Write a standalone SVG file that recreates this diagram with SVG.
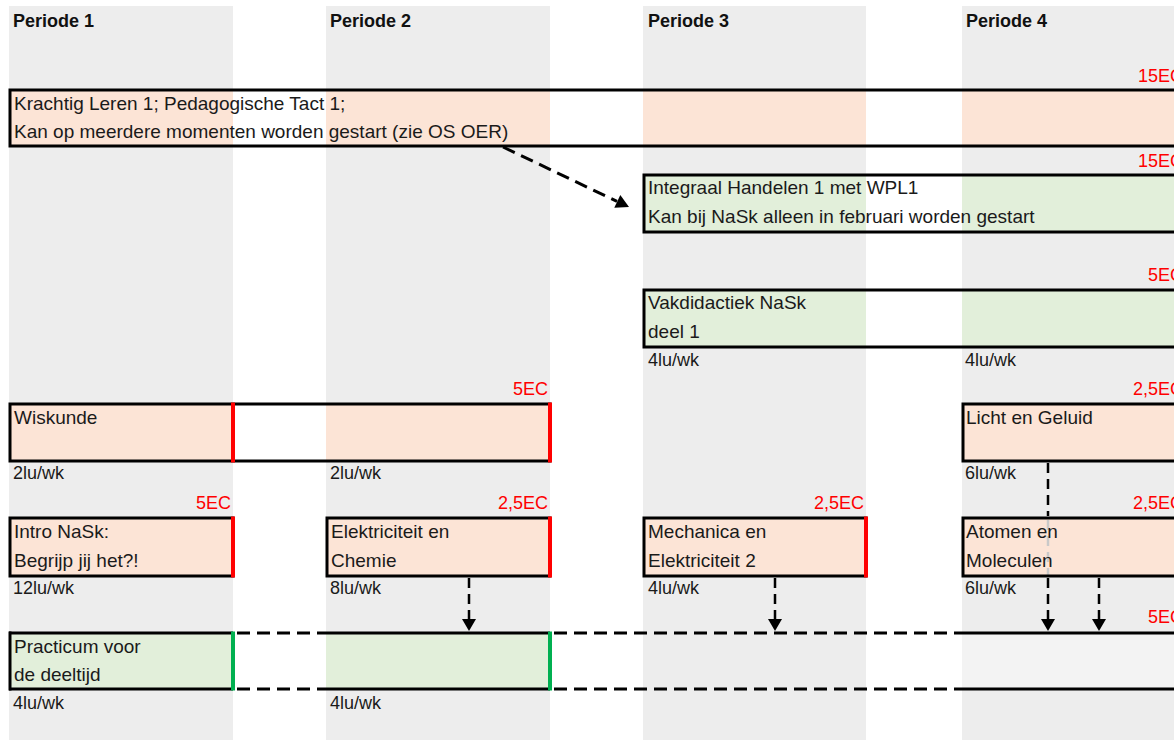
<svg xmlns="http://www.w3.org/2000/svg" width="1174" height="740" viewBox="0 0 1174 740">
<style>
.col{fill:#EDEDED}
.peach{fill:#FCE4D6}
.green{fill:#E2EFDA}
.box{fill:none;stroke:#000;stroke-width:3}
.ln{stroke:#000;stroke-width:3;fill:none}
.t{font-family:"Liberation Sans",Arial,sans-serif;font-size:19px;fill:#1a1a1a}
.lu{font-family:"Liberation Sans",Arial,sans-serif;font-size:18px;fill:#1a1a1a}
.ec{font-family:"Liberation Sans",Arial,sans-serif;font-size:18px;fill:#FF0000;text-anchor:end}
.hdr{font-family:"Liberation Sans",Arial,sans-serif;font-size:18px;font-weight:bold;fill:#111}
.red{stroke:#FF0000;stroke-width:4}
.grn{stroke:#00B050;stroke-width:4}
.dash{stroke:#000;stroke-width:3;stroke-dasharray:13 7;fill:none}
.vdash{stroke:#000;stroke-width:2.5;stroke-dasharray:10 6;fill:none}
.head{fill:#000}
</style>
<rect width="1174" height="740" fill="#fff"/>
<g id="columns">
<rect class="col" x="9" y="6" width="224" height="734"/>
<rect class="col" x="326" y="6" width="224" height="734"/>
<rect class="col" x="643" y="6" width="223" height="734"/>
<rect class="col" x="962" y="6" width="212" height="734"/>
<text class="hdr" x="13" y="27">Periode 1</text>
<text class="hdr" x="330" y="27">Periode 2</text>
<text class="hdr" x="648" y="27">Periode 3</text>
<text class="hdr" x="966" y="27">Periode 4</text>
</g>
<g id="krachtig">
<rect x="10" y="90" width="1180" height="56" fill="#fff"/>
<rect class="peach" x="10" y="90" width="223" height="56"/>
<rect class="peach" x="326" y="90" width="224" height="56"/>
<rect class="peach" x="643" y="90" width="223" height="56"/>
<rect class="peach" x="962" y="90" width="220" height="56"/>
<rect class="box" x="10" y="90" width="1180" height="56"/>
<text class="t" x="14" y="110">Krachtig Leren 1; Pedagogische Tact 1;</text>
<text class="t" x="14" y="138">Kan op meerdere momenten worden gestart (zie OS OER)</text>
<text class="ec" x="1183" y="82">15EC</text>
</g>
<g id="integraal">
<rect x="644" y="175" width="550" height="57" fill="#fff"/>
<rect class="green" x="644" y="175" width="222" height="57"/>
<rect class="green" x="962" y="175" width="220" height="57"/>
<rect class="box" x="644" y="175" width="550" height="57"/>
<text class="t" x="648" y="194">Integraal Handelen 1 met WPL1</text>
<text class="t" x="648" y="223">Kan bij NaSk alleen in februari worden gestart</text>
<text class="ec" x="1183" y="167">15EC</text>
</g>
<g id="vakdidactiek">
<rect x="644" y="290" width="550" height="57" fill="#fff"/>
<rect class="green" x="644" y="290" width="222" height="57"/>
<rect class="green" x="962" y="290" width="220" height="57"/>
<rect class="box" x="644" y="290" width="550" height="57"/>
<text class="t" x="648" y="309">Vakdidactiek NaSk</text>
<text class="t" x="648" y="338">deel 1</text>
<text class="ec" x="1183" y="281">5EC</text>
<text class="lu" x="648" y="366">4lu/wk</text>
<text class="lu" x="965" y="366">4lu/wk</text>
</g>
<g id="wiskunde">
<rect x="10" y="404" width="540" height="57" fill="#fff"/>
<rect class="peach" x="10" y="404" width="223" height="57"/>
<rect class="peach" x="326" y="404" width="224" height="57"/>
<rect class="box" x="10" y="404" width="540" height="57"/>
<line class="red" x1="233" y1="402.5" x2="233" y2="462.5"/>
<line class="red" x1="550" y1="402.5" x2="550" y2="462.5"/>
<text class="t" x="14" y="424">Wiskunde</text>
<text class="ec" x="548" y="395">5EC</text>
<text class="lu" x="13" y="479">2lu/wk</text>
<text class="lu" x="330" y="479">2lu/wk</text>
</g>
<g id="licht">
<rect class="peach" x="963" y="404" width="230" height="57"/>
<rect class="box" x="963" y="404" width="230" height="57"/>
<text class="t" x="966" y="424">Licht en Geluid</text>
<text class="ec" x="1183" y="395">2,5EC</text>
<text class="lu" x="965" y="479">6lu/wk</text>
</g>
<g id="intro">
<rect class="peach" x="10" y="518" width="223" height="58"/>
<rect class="box" x="10" y="518" width="223" height="58"/>
<line class="red" x1="233" y1="516.5" x2="233" y2="577.5"/>
<text class="t" x="14" y="538">Intro NaSk:</text>
<text class="t" x="14" y="567">Begrijp jij het?!</text>
<text class="ec" x="231" y="509">5EC</text>
<text class="lu" x="13" y="594">12lu/wk</text>
</g>
<g id="elektriciteit">
<rect class="peach" x="327" y="518" width="223" height="58"/>
<rect class="box" x="327" y="518" width="223" height="58"/>
<line class="red" x1="550" y1="516.5" x2="550" y2="577.5"/>
<text class="t" x="331" y="538">Elektriciteit en</text>
<text class="t" x="331" y="567">Chemie</text>
<text class="ec" x="548" y="509">2,5EC</text>
<text class="lu" x="330" y="594">8lu/wk</text>
</g>
<g id="mechanica">
<rect class="peach" x="644" y="518" width="222" height="58"/>
<rect class="box" x="644" y="518" width="222" height="58"/>
<line class="red" x1="866" y1="516.5" x2="866" y2="577.5"/>
<text class="t" x="648" y="538">Mechanica en</text>
<text class="t" x="648" y="567">Elektriciteit 2</text>
<text class="ec" x="864" y="509">2,5EC</text>
<text class="lu" x="648" y="594">4lu/wk</text>
</g>
<g id="atomen">
<rect class="peach" x="963" y="518" width="230" height="58"/>
<line x1="1048" y1="520" x2="1048" y2="575" stroke="#c9c9c9" stroke-width="2.5" stroke-dasharray="10 6"/>
<rect class="box" x="963" y="518" width="230" height="58"/>
<text class="t" x="966" y="538">Atomen en</text>
<text class="t" x="966" y="567">Moleculen</text>
<text class="ec" x="1183" y="509">2,5EC</text>
<text class="lu" x="965" y="594">6lu/wk</text>
</g>
<g id="practicum">
<rect class="green" x="10" y="633" width="223" height="56"/>
<rect class="green" x="326" y="633" width="224" height="56"/>
<rect x="962" y="633" width="212" height="56" fill="#F3F3F3"/>
<line class="ln" x1="10" y1="631.5" x2="10" y2="690.5"/>
<line class="ln" x1="9" y1="633" x2="233" y2="633"/>
<line class="ln" x1="9" y1="689" x2="233" y2="689"/>
<line class="ln" x1="326" y1="633" x2="550" y2="633"/>
<line class="ln" x1="326" y1="689" x2="550" y2="689"/>
<line class="ln" x1="962" y1="633" x2="1174" y2="633"/>
<line class="ln" x1="962" y1="689" x2="1174" y2="689"/>
<line class="dash" x1="237" y1="633" x2="326" y2="633"/>
<line class="dash" x1="237" y1="689" x2="326" y2="689"/>
<line class="dash" x1="554" y1="633" x2="962" y2="633"/>
<line class="dash" x1="554" y1="689" x2="962" y2="689"/>
<line class="grn" x1="233" y1="631.5" x2="233" y2="690.5"/>
<line class="grn" x1="550" y1="631.5" x2="550" y2="690.5"/>
<text class="t" x="14" y="653">Practicum voor</text>
<text class="t" x="14" y="681">de deeltijd</text>
<text class="ec" x="1183" y="623">5EC</text>
<text class="lu" x="13" y="709">4lu/wk</text>
<text class="lu" x="330" y="709">4lu/wk</text>
</g>
<g id="connectors">
<line class="dash" x1="503" y1="147" x2="617" y2="201.4"/>
<polygon class="head" points="629,207 614.3,207.7 620.3,195.1"/>
<line class="vdash" x1="469" y1="578" x2="469" y2="620"/>
<polygon class="head" points="462,619 476,619 469,631"/>
<line class="vdash" x1="775" y1="578" x2="775" y2="620"/>
<polygon class="head" points="768,619 782,619 775,631"/>
<line class="vdash" x1="1048" y1="463" x2="1048" y2="516"/>
<line class="vdash" x1="1048" y1="578" x2="1048" y2="620"/>
<polygon class="head" points="1041,619 1055,619 1048,631"/>
<line class="vdash" x1="1099" y1="578" x2="1099" y2="620"/>
<polygon class="head" points="1092,619 1106,619 1099,631"/>
</g>
</svg>
